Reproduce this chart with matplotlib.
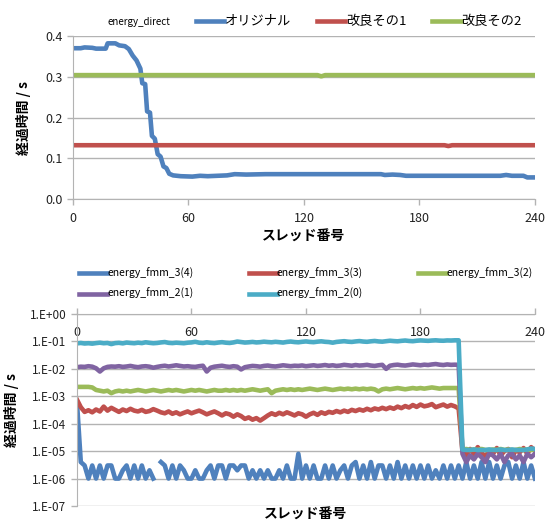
import numpy as np
import matplotlib
matplotlib.use("Agg")
import matplotlib.pyplot as plt
from matplotlib.lines import Line2D
from matplotlib.ticker import FixedLocator, FuncFormatter, FormatStrFormatter, NullLocator

plt.rcParams['font.family'] = ['Noto Sans CJK JP', 'DejaVu Sans']

# ---- energy_direct: elapsed time vs thread number ----
orig_x = [0, 4, 6, 10, 12, 17, 18, 22, 24, 27, 29, 31, 33, 34, 35, 36, 37.5, 38.5, 40, 41,
          42.5, 44, 45.5, 47, 48.5, 50, 52, 56, 62, 66, 70, 80, 84, 90, 100, 160, 162, 166,
          170, 173, 222, 225, 228, 234, 236, 240]
orig_y = [0.370, 0.370, 0.372, 0.371, 0.369, 0.369, 0.382, 0.382, 0.377, 0.375, 0.368, 0.352,
          0.340, 0.330, 0.320, 0.284, 0.282, 0.215, 0.212, 0.155, 0.148, 0.110, 0.104, 0.080,
          0.076, 0.062, 0.058, 0.056, 0.055, 0.057, 0.056, 0.058, 0.061, 0.060, 0.061, 0.061,
          0.059, 0.060, 0.059, 0.057, 0.057, 0.059, 0.057, 0.057, 0.053, 0.053]
kai1_x = [0, 193, 195, 197, 240]
kai1_y = [0.132, 0.132, 0.130, 0.132, 0.132]
kai2_x = [0, 127, 129, 131, 240]
kai2_y = [0.304, 0.304, 0.301, 0.304, 0.304]

# ---- energy_fmm: elapsed time per thread (every 2nd thread) ----
threads = list(range(0, 241, 2))

fmm_2_0 = [0.085, 0.088, 0.084, 0.086, 0.083, 0.087, 0.090, 0.086, 0.088, 0.080,
           0.087, 0.089, 0.085, 0.091, 0.088, 0.086, 0.090, 0.087, 0.093, 0.089,
           0.086, 0.088, 0.092, 0.095, 0.089, 0.087, 0.090, 0.088, 0.086, 0.090,
           0.092, 0.097, 0.090, 0.088, 0.093, 0.089, 0.087, 0.091, 0.094, 0.090,
           0.088, 0.092, 0.099, 0.095, 0.091, 0.093, 0.096, 0.092, 0.094, 0.098,
           0.095, 0.093, 0.097, 0.094, 0.091, 0.096, 0.099, 0.095, 0.093, 0.097,
           0.100, 0.096, 0.094, 0.098, 0.101, 0.097, 0.095, 0.090, 0.096, 0.099,
           0.102, 0.098, 0.096, 0.100, 0.103, 0.099, 0.097, 0.101, 0.104, 0.100,
           0.098, 0.102, 0.106, 0.103, 0.101, 0.105, 0.108, 0.104, 0.102, 0.106,
           0.109, 0.107, 0.105, 0.108, 0.110, 0.107, 0.106, 0.109, 0.108, 0.110,
           0.110,
           1.15e-5, 1.1e-5, 1.1e-5, 1.15e-5, 1.1e-5, 1.1e-5, 1.1e-5, 1.15e-5, 1.1e-5, 1.1e-5,
           1.15e-5, 1.1e-5, 1.1e-5, 1.15e-5, 1.1e-5, 1.1e-5, 1.1e-5, 1.15e-5, 1.25e-5, 1.2e-5]

fmm_2_1 = [0.0115, 0.0120, 0.0118, 0.0125, 0.0120, 0.0105, 0.0080, 0.0105, 0.0118, 0.0122,
           0.0120, 0.0125, 0.0118, 0.0122, 0.0128, 0.0120, 0.0115, 0.0122, 0.0125, 0.0120,
           0.0110, 0.0118, 0.0125, 0.0130, 0.0122, 0.0128, 0.0135, 0.0128, 0.0122, 0.0125,
           0.0120, 0.0118, 0.0125, 0.0130, 0.0080, 0.0110, 0.0120, 0.0125, 0.0130, 0.0122,
           0.0118, 0.0125, 0.0120, 0.0095, 0.0115, 0.0122, 0.0128, 0.0125, 0.0120, 0.0128,
           0.0132, 0.0125, 0.0122, 0.0128, 0.0135, 0.0130, 0.0125, 0.0130, 0.0128, 0.0133,
           0.0125, 0.0130, 0.0135, 0.0128, 0.0132, 0.0138, 0.0130, 0.0135, 0.0128, 0.0132,
           0.0140, 0.0135, 0.0130, 0.0138, 0.0132, 0.0135, 0.0140, 0.0132, 0.0128, 0.0135,
           0.0140, 0.0100, 0.0130, 0.0138, 0.0142, 0.0135, 0.0132, 0.0138, 0.0145, 0.0140,
           0.0135, 0.0142, 0.0138, 0.0145, 0.0150, 0.0142, 0.0138, 0.0145, 0.0140, 0.0142,
           0.0140,
           8e-6, 4e-6, 7e-6, 5e-6, 8e-6, 6e-6, 4e-6, 8e-6, 7e-6, 5e-6,
           8e-6, 4e-6, 7e-6, 8e-6, 5e-6, 7e-6, 4e-6, 8e-6, 6e-6, 8e-6]

fmm_3_2 = [0.0022, 0.0022, 0.0022, 0.0022, 0.0021, 0.0017, 0.0016, 0.0015, 0.0016, 0.0013,
           0.0015, 0.0016, 0.0015, 0.0016, 0.0015, 0.0016, 0.0017, 0.0016, 0.0015, 0.0016,
           0.0017, 0.0016, 0.0015, 0.0016, 0.0017, 0.0016, 0.0017, 0.0016, 0.0015, 0.0016,
           0.0017, 0.0016, 0.0017, 0.0016, 0.0015, 0.0016, 0.0017, 0.0016, 0.0016, 0.0017,
           0.0016, 0.0017, 0.0016, 0.0017, 0.0016, 0.0017, 0.0018, 0.0017, 0.0016, 0.0017,
           0.0018, 0.0013, 0.0016, 0.0017, 0.0018, 0.0017, 0.0018, 0.0017, 0.0018, 0.0017,
           0.0018, 0.0019, 0.0018, 0.0017, 0.0018, 0.0019, 0.0018, 0.0017, 0.0018, 0.0019,
           0.0018, 0.0019, 0.0018, 0.0019, 0.0018, 0.0019, 0.0018, 0.0019, 0.0018, 0.0015,
           0.0018, 0.0019, 0.0018, 0.0019, 0.0020, 0.0019, 0.0018, 0.0019, 0.0020, 0.0019,
           0.0020, 0.0019, 0.0020, 0.0021, 0.0020, 0.0019, 0.0020, 0.0020, 0.0020, 0.0020,
           0.0020,
           1.1e-5, 1.2e-5, 1.1e-5, 1.15e-5, 1.1e-5, 1.2e-5, 1.1e-5, 1.1e-5, 1.15e-5, 1.1e-5,
           1.2e-5, 1.1e-5, 1.15e-5, 1.1e-5, 1.1e-5, 1.2e-5, 1.1e-5, 1.15e-5, 1.1e-5, 1.15e-5]

fmm_3_3 = [7.5e-4, 4.0e-4, 2.7e-4, 3.1e-4, 2.6e-4, 3.3e-4, 2.8e-4, 4.2e-4, 3.0e-4, 3.8e-4,
           3.2e-4, 2.7e-4, 3.3e-4, 2.9e-4, 3.5e-4, 3.0e-4, 2.8e-4, 3.2e-4, 2.7e-4, 2.9e-4,
           3.4e-4, 3.0e-4, 2.6e-4, 2.4e-4, 2.8e-4, 2.3e-4, 2.6e-4, 2.2e-4, 2.5e-4, 2.8e-4,
           2.4e-4, 2.7e-4, 3.0e-4, 2.6e-4, 2.2e-4, 2.5e-4, 2.8e-4, 2.4e-4, 2.0e-4, 2.4e-4,
           2.2e-4, 1.8e-4, 2.2e-4, 1.9e-4, 1.5e-4, 1.7e-4, 1.4e-4, 1.6e-4, 1.3e-4, 1.6e-4,
           2.0e-4, 2.4e-4, 2.1e-4, 2.5e-4, 2.2e-4, 2.6e-4, 2.3e-4, 2.0e-4, 2.4e-4, 2.2e-4,
           1.8e-4, 2.2e-4, 2.5e-4, 2.1e-4, 2.6e-4, 2.3e-4, 2.7e-4, 2.5e-4, 2.9e-4, 2.6e-4,
           3.0e-4, 2.7e-4, 3.2e-4, 2.9e-4, 3.3e-4, 3.0e-4, 3.5e-4, 3.1e-4, 3.6e-4, 3.3e-4,
           3.8e-4, 3.4e-4, 3.9e-4, 3.5e-4, 4.2e-4, 3.7e-4, 4.4e-4, 3.9e-4, 4.8e-4, 4.1e-4,
           5.0e-4, 4.3e-4, 4.6e-4, 5.2e-4, 4.0e-4, 4.5e-4, 5.0e-4, 4.2e-4, 4.8e-4, 4.3e-4,
           3.6e-4,
           1.0e-5, 7e-6, 1.2e-5, 8e-6, 1.4e-5, 9e-6, 6e-6, 1.1e-5, 8e-6, 1.3e-5,
           7e-6, 1.0e-5, 1.2e-5, 6e-6, 1.1e-5, 9e-6, 1.3e-5, 8e-6, 1.4e-5, 1.0e-5]

# nan = measured 0 s (not shown on the log axis)
fmm_3_4 = [6e-4, 4e-6, 3e-6, 1e-6, 3e-6, 1e-6, 3e-6, 1e-6, 3e-6, 3e-6,
           1e-6, 1e-6, 2e-6, 3e-6, 1e-6, 3e-6, 1e-6, 3e-6, 1e-6, 2e-6,
           1e-6, np.nan, 4e-6, 3e-6, 1e-6, 3e-6, 1e-6, 3e-6, 2e-6, 1e-6,
           1e-6, 2e-6, 1e-6, 1e-6, 2e-6, 3e-6, 1e-6, 3e-6, 3e-6, 1e-6,
           3e-6, 3e-6, 2e-6, 3e-6, 3e-6, 1e-6, 2e-6, 1e-6, 2e-6, 1e-6,
           2e-6, 1e-6, 1e-6, 2e-6, 1e-6, 3e-6, 1e-6, 1e-6, 8e-6, 1e-6,
           3e-6, 1e-6, 3e-6, 1e-6, 1e-6, 3e-6, 1e-6, 3e-6, 1e-6, 2e-6,
           3e-6, 1e-6, 3e-6, 4e-6, 1e-6, 3e-6, 1e-6, 4e-6, 1e-6, 3e-6,
           3e-6, 1e-6, 3e-6, 1e-6, 4e-6, 1e-6, 3e-6, 1e-6, 3e-6, 1e-6,
           3e-6, 1e-6, 3e-6, 1e-6, 2e-6, 1e-6, 3e-6, 1e-6, 3e-6, 1e-6,
           3e-6,
           1e-6, 4e-6, 1e-6, 3e-6, 1e-6, 4e-6, 1e-6, 4e-6, 1e-6, 3e-6,
           1e-6, 3e-6, 4e-6, 1e-6, 3e-6, 1e-6, 4e-6, 1e-6, 3e-6, 1e-6]

x_ticks = [0, 60, 120, 180, 240]

BLUE = '#4F81BD'
RED = '#C0504D'
GREEN = '#9BBB59'
PURPLE = '#8064A2'
CYAN = '#4BACC6'
GRID = '#B3B3B3'
LW = 3.3

fig = plt.figure(figsize=(5.53, 5.21), dpi=100)

# top: energy_direct
ax1 = fig.add_axes([0.132, 0.618, 0.8354, 0.3129])
l_orig, = ax1.plot(orig_x, orig_y, color=BLUE, lw=LW, solid_joinstyle='round')
l_k1, = ax1.plot(kai1_x, kai1_y, color=RED, lw=LW)
l_k2, = ax1.plot(kai2_x, kai2_y, color=GREEN, lw=LW)
ax1.set_xlim(0, 240)
ax1.set_ylim(0, 0.4)
ax1.xaxis.set_major_locator(FixedLocator(x_ticks))
ax1.yaxis.set_major_locator(FixedLocator([0, 0.1, 0.2, 0.3, 0.4]))
ax1.yaxis.set_major_formatter(FormatStrFormatter('%.1f'))
ax1.grid(axis='y', color=GRID, lw=1)
ax1.set_axisbelow(True)
for s in ['top', 'right']:
    ax1.spines[s].set_visible(False)
for s in ['left', 'bottom']:
    ax1.spines[s].set_color(GRID)
ax1.tick_params(colors=GRID, labelcolor='#222222', labelsize=9, length=4, width=1)
ax1.tick_params(axis='x', pad=5)
ax1.set_xlabel('スレッド番号', fontsize=10, fontweight='bold', labelpad=4)
ax1.set_ylabel('経過時間 / s', fontsize=10, fontweight='bold', labelpad=10)
blank = Line2D([], [], color='none')
leg1 = ax1.legend([blank, l_orig, l_k1, l_k2], ['energy_direct', 'オリジナル', '改良その1', '改良その2'],
                  ncol=4, loc='lower center', bbox_to_anchor=(0.491, 1.0), frameon=False,
                  fontsize=8.5, handlelength=2.4, handletextpad=0.05, columnspacing=2.2,
                  borderaxespad=0.3)
for t in leg1.get_texts():
    t.set_fontsize(9.5)
leg1.get_texts()[0].set_fontsize(7)

# bottom: energy_fmm (log scale)
ax2 = fig.add_axes([0.1392, 0.0288, 0.8282, 0.3685])
h34, = ax2.plot(threads, fmm_3_4, color=BLUE, lw=LW)
h33, = ax2.plot(threads, fmm_3_3, color=RED, lw=LW)
h32, = ax2.plot(threads, fmm_3_2, color=GREEN, lw=LW)
h21, = ax2.plot(threads, fmm_2_1, color=PURPLE, lw=LW)
h20, = ax2.plot(threads, fmm_2_0, color=CYAN, lw=LW)
ax2.set_yscale('log')
ax2.set_xlim(0, 240)
ax2.set_ylim(1e-7, 1)
ax2.yaxis.set_major_locator(FixedLocator([10.0 ** k for k in range(-7, 1)]))
ax2.yaxis.set_minor_locator(NullLocator())
ax2.yaxis.set_major_formatter(FuncFormatter(lambda v, p: '1.E%+03d' % int(round(np.log10(v)))))
ax2.xaxis.set_major_locator(FixedLocator(x_ticks))
ax2.xaxis.tick_top()
ax2.grid(axis='y', color=GRID, lw=1)
ax2.set_axisbelow(True)
for s in ['bottom', 'right']:
    ax2.spines[s].set_visible(False)
for s in ['left', 'top']:
    ax2.spines[s].set_color(GRID)
ax2.tick_params(colors=GRID, labelcolor='#222222', labelsize=8.5, length=4, width=1)
ax2.tick_params(axis='x', labelsize=9, pad=-22)
ax2.set_xlabel('スレッド番号', fontsize=10, fontweight='bold', labelpad=1.5)
ax2.xaxis.set_label_position('bottom')
ax2.set_ylabel('経過時間 / s', fontsize=10, fontweight='bold', labelpad=8)
ax2.legend([h34, h21, h33, h20, h32],
           ['energy_fmm_3(4)', 'energy_fmm_2(1)', 'energy_fmm_3(3)', 'energy_fmm_2(0)', 'energy_fmm_3(2)'],
           ncol=3, loc='lower center', bbox_to_anchor=(0.5, 1.0), frameon=False,
           fontsize=7.5, handlelength=2.7, handletextpad=0.0, columnspacing=5.3,
           labelspacing=0.9, borderaxespad=1.0)

fig.savefig('out.png', dpi=100)
